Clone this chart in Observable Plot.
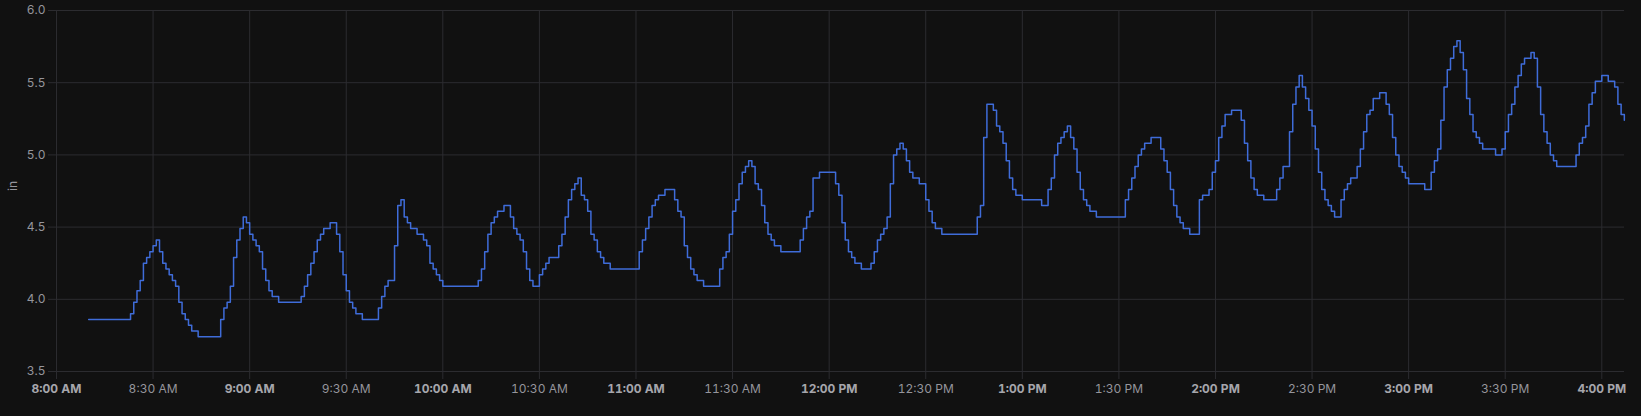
<!DOCTYPE html>
<html><head><meta charset="utf-8">
<script src="https://cdn.jsdelivr.net/npm/d3@7"></script>
<script src="https://cdn.jsdelivr.net/npm/@observablehq/plot@0.6"></script>
<style>
html,body{margin:0;padding:0;background:#111111;}
#chart{width:1641px;height:416px;}
svg{display:block;}
</style></head><body><div id="chart"></div>
<script>
// Step-change points (time of change, level in inches)
const times = [
  "8:10","8:23","8:24","8:25","8:26","8:27","8:28","8:29","8:30","8:31","8:32","8:33","8:34","8:35","8:36","8:37","8:38","8:39","8:40","8:41","8:42","8:44",
  "8:51","8:52","8:53","8:54","8:55","8:56","8:57","8:58","8:59","9:00","9:01","9:02","9:03","9:04","9:05","9:06","9:07","9:09",
  "9:16","9:17","9:18","9:19","9:20","9:21","9:22","9:23","9:25","9:27","9:28","9:29","9:30","9:31","9:32","9:33","9:35",
  "9:40","9:41","9:42","9:43","9:45","9:46","9:47","9:48","9:49","9:50","9:52","9:54","9:55","9:56","9:57","9:58","9:59","10:00",
  "10:11","10:12","10:13","10:14","10:15","10:16","10:17","10:19","10:21","10:22","10:23","10:24","10:25","10:26","10:27","10:28",
  "10:30","10:31","10:32","10:33","10:36","10:37","10:38","10:39","10:40","10:41","10:42","10:43","10:44","10:45","10:46","10:47","10:48","10:49","10:50","10:52",
  "11:01","11:02","11:03","11:04","11:05","11:06","11:07","11:09","11:12","11:13","11:14","11:15","11:16","11:17","11:18","11:19","11:21",
  "11:26","11:27","11:28","11:29","11:30","11:31","11:32","11:33","11:34","11:35","11:36","11:37","11:38","11:39","11:40","11:41","11:42","11:43","11:45",
  "11:51","11:52","11:53","11:54","11:55","11:57","12:02","12:03","12:04","12:05","12:06","12:07","12:08","12:10",
  "12:13","12:14","12:15","12:16","12:17","12:18","12:19","12:20","12:21","12:22","12:23","12:24","12:25","12:26","12:28","12:30","12:31","12:32","12:33","12:35",
  "12:46","12:47","12:48","12:49","12:51","12:52","12:53","12:54","12:55","12:56","12:57","12:58","13:00",
  "13:06","13:08","13:09","13:10","13:11","13:12","13:13","13:14","13:15","13:16","13:17","13:18","13:19","13:20","13:21","13:23",
  "13:32","13:33","13:34","13:35","13:36","13:37","13:38","13:40","13:43","13:44","13:45","13:46","13:47","13:48","13:49","13:50","13:52",
  "13:55","13:56","13:58","13:59","14:00","14:01","14:02","14:03","14:05","14:08","14:09","14:10","14:11","14:12","14:13","14:15",
  "14:19","14:20","14:21","14:23","14:24","14:25","14:26","14:27","14:28","14:29","14:30","14:31","14:32","14:33","14:34","14:35","14:36","14:37",
  "14:39","14:40","14:41","14:42","14:44","14:45","14:46","14:47","14:48","14:49","14:51","14:53","14:54","14:55","14:56","14:57","14:58","14:59","15:00","15:05",
  "15:07","15:08","15:09","15:10","15:11","15:12","15:13","15:14","15:15","15:16","15:17","15:18","15:19","15:20","15:21","15:22","15:23","15:27","15:29",
  "15:30","15:31","15:32","15:33","15:34","15:35","15:36","15:38","15:39","15:40","15:41","15:42","15:43","15:44","15:45","15:46","15:52",
  "15:53","15:54","15:55","15:56","15:57","15:58","16:00","16:02","16:04","16:05","16:06","16:07"
];
const levels = [
  3.86,3.90,3.98,4.06,4.13,4.25,4.29,4.33,4.37,4.41,4.33,4.25,4.21,4.17,4.13,4.09,3.98,3.90,3.86,3.82,3.78,3.74,
  3.86,3.94,3.98,4.09,4.29,4.41,4.49,4.57,4.53,4.45,4.41,4.37,4.33,4.21,4.13,4.06,4.02,3.98,
  4.02,4.09,4.17,4.25,4.33,4.41,4.45,4.49,4.53,4.45,4.33,4.17,4.06,3.98,3.94,3.90,3.86,
  3.94,4.02,4.09,4.13,4.37,4.65,4.69,4.57,4.53,4.49,4.45,4.41,4.37,4.25,4.21,4.17,4.13,4.09,
  4.13,4.21,4.33,4.45,4.53,4.57,4.61,4.65,4.57,4.49,4.45,4.41,4.33,4.21,4.13,4.09,
  4.17,4.21,4.25,4.29,4.37,4.45,4.57,4.69,4.76,4.80,4.84,4.72,4.69,4.61,4.45,4.41,4.33,4.29,4.25,4.21,
  4.33,4.41,4.49,4.57,4.65,4.69,4.72,4.76,4.69,4.61,4.57,4.37,4.29,4.21,4.17,4.13,4.09,
  4.21,4.29,4.33,4.45,4.61,4.69,4.80,4.88,4.92,4.96,4.92,4.80,4.76,4.65,4.53,4.45,4.41,4.37,4.33,
  4.41,4.49,4.57,4.61,4.84,4.88,4.80,4.72,4.53,4.41,4.33,4.29,4.25,4.21,
  4.25,4.33,4.41,4.45,4.49,4.57,4.80,5.00,5.04,5.08,5.04,4.96,4.88,4.84,4.80,4.69,4.61,4.53,4.49,4.45,
  4.57,4.65,5.12,5.35,5.31,5.20,5.16,5.08,4.96,4.84,4.76,4.72,4.69,
  4.65,4.76,4.84,5.00,5.08,5.12,5.16,5.20,5.12,5.04,4.88,4.76,4.69,4.65,4.61,4.57,
  4.69,4.76,4.84,4.92,5.00,5.04,5.08,5.12,5.04,4.96,4.88,4.76,4.65,4.57,4.53,4.49,4.45,
  4.69,4.72,4.76,4.88,4.96,5.12,5.20,5.28,5.31,5.24,5.08,4.96,4.84,4.76,4.72,4.69,
  4.76,4.84,4.92,5.16,5.35,5.47,5.55,5.47,5.39,5.31,5.20,5.04,4.88,4.76,4.69,4.65,4.61,4.57,
  4.69,4.76,4.80,4.84,4.92,5.04,5.16,5.28,5.31,5.39,5.43,5.35,5.28,5.12,5.00,4.92,4.88,4.84,4.80,4.76,
  4.88,4.96,5.04,5.24,5.47,5.59,5.67,5.75,5.79,5.71,5.59,5.39,5.28,5.16,5.12,5.08,5.04,5.00,5.04,
  5.16,5.28,5.35,5.47,5.55,5.63,5.67,5.71,5.67,5.47,5.28,5.16,5.08,5.00,4.96,4.92,5.00,
  5.08,5.12,5.20,5.35,5.43,5.51,5.55,5.51,5.47,5.35,5.28,5.24
];
const yTicks = [3.5, 4.0, 4.5, 5.0, 5.5, 6.0];
const hourTicks = ["8:00","9:00","10:00","11:00","12:00","13:00","14:00","15:00","16:00"];
const halfHourTicks = ["8:30","9:30","10:30","11:30","12:30","13:30","14:30","15:30"];
const yLabel = "in";
const timeRange = ["7:57:31", "16:07:03"];

const toDate = s => { const [h, m, sec] = s.split(":").map(Number); return new Date(2024, 0, 1, h, m, sec || 0); };
const data = times.map((t, i) => ({time: toDate(t), level: levels[i]}));
const fmt = d3.timeFormat("%-I:%M %p");
const gridColor = "#2c2c30";
const labelColor = "#95959c";

const chart = Plot.plot({
  width: 1641, height: 416,
  marginLeft: 48, marginRight: 17, marginTop: 10, marginBottom: 45,
  style: {background: "#111111", fontFamily: "Inter, 'Noto Sans', sans-serif", fontSize: "12px", color: labelColor},
  x: {type: "time", domain: timeRange.map(toDate)},
  y: {domain: [3.5, 6.0]},
  marks: [
    Plot.gridY(yTicks, {stroke: gridColor, strokeOpacity: 1}),
    Plot.gridX([...hourTicks, ...halfHourTicks].map(toDate), {stroke: gridColor, strokeOpacity: 1}),
    Plot.axisY(yTicks, {tickSize: 0, tickPadding: 3, tickFormat: d => d.toFixed(1), fill: labelColor, label: null}),
    Plot.text([yLabel], {frameAnchor: "left", dx: -35, rotate: -90, fill: labelColor, fontSize: 12}),
    Plot.axisX(hourTicks.map(toDate), {tickSize: 8, tickPadding: 5, stroke: gridColor, strokeOpacity: 1,
      fill: "#a6a6ac", fontWeight: "bold", tickFormat: fmt, label: null}),
    Plot.axisX(halfHourTicks.map(toDate), {tickSize: 8, tickPadding: 5, stroke: gridColor, strokeOpacity: 1,
      fill: labelColor, tickFormat: fmt, label: null}),
    Plot.line(data, {x: "time", y: "level", curve: "step-after", stroke: "#3f6cd9", strokeWidth: 1.5})
  ]
});
document.getElementById("chart").appendChild(chart);
</script>
</body></html>
